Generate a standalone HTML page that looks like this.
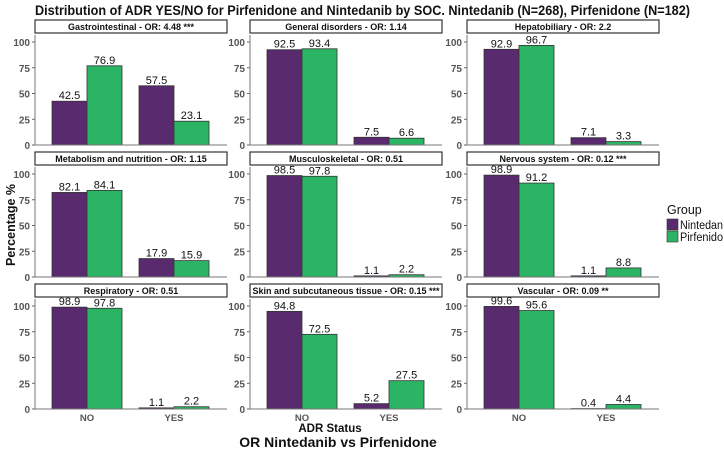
<!DOCTYPE html>
<html><head><meta charset="utf-8"><style>
body{margin:0;background:#fff;}
svg{font-family:"Liberation Sans",Arial,sans-serif;display:block}
</style></head><body>
<svg id="c" width="724" height="450">
<text x="35" y="15" textLength="655" lengthAdjust="spacingAndGlyphs" font-size="13.5" font-weight="bold" fill="#111">Distribution of ADR YES/NO for Pirfenidone and Nintedanib by SOC. Nintedanib (N=268), Pirfenidone (N=182)</text>
<text transform="translate(15,225) rotate(-90)" text-anchor="middle" font-size="12.5" font-weight="bold" fill="#111">Percentage %</text>
<text x="330" y="432" text-anchor="middle" font-size="11.5" font-weight="bold" fill="#111">ADR Status</text>
<text x="338" y="447" text-anchor="middle" font-size="14" font-weight="bold" fill="#111">OR Nintedanib vs Pirfenidone</text>
<g>
<text x="667" y="214" font-size="12.5" fill="#111">Group</text>
<rect x="667" y="219" width="11" height="11" fill="#5a2a6e" stroke="#333" stroke-width="0.6"/>
<text x="680" y="229" font-size="11.5" textLength="43" lengthAdjust="spacingAndGlyphs" fill="#111">Nintedan</text>
<rect x="667" y="231" width="11" height="11" fill="#2bb463" stroke="#333" stroke-width="0.6"/>
<text x="680" y="241" font-size="11.5" textLength="43" lengthAdjust="spacingAndGlyphs" fill="#111">Pirfenido</text>
</g>
<g id="panels"></g>
</svg>
<script>
const panelTitles = ["Gastrointestinal - OR: 4.48 ***","General disorders - OR: 1.14","Hepatobiliary - OR: 2.2","Metabolism and nutrition - OR: 1.15","Musculoskeletal - OR: 0.51","Nervous system - OR: 0.12 ***","Respiratory - OR: 0.51","Skin and subcutaneous tissue - OR: 0.15 ***","Vascular - OR: 0.09 **"];
const categories = ["NO","YES"];
const nintedanib = [[42.5,57.5],[92.5,7.5],[92.9,7.1],[82.1,17.9],[98.5,1.1],[98.9,1.1],[98.9,1.1],[94.8,5.2],[99.6,0.4]];
const pirfenidone = [[76.9,23.1],[93.4,6.6],[96.7,3.3],[84.1,15.9],[97.8,2.2],[91.2,8.8],[97.8,2.2],[72.5,27.5],[95.6,4.4]];
const yTicks = [0,25,50,75,100];
const colors = ["#5a2a6e","#2bb463"];
const NS="http://www.w3.org/2000/svg";
const root=document.getElementById('panels');
function mk(t,a,p){const e=document.createElementNS(NS,t);for(const k in a)e.setAttribute(k,a[k]);(p||root).appendChild(e);return e;}
const colX=[35,250,467], rowZero=[145,277,409], pw=192, scale=1.03;
panelTitles.forEach((title,i)=>{
  const c=i%3,r=Math.floor(i/3), x0=colX[c], y0=rowZero[r];
  const g=mk('g',{});
  
  
  const yS=v=>y0-v*scale;
  const st=mk('rect',{x:x0,y:y0-125,width:pw,height:13,fill:'#fff',stroke:'#333','stroke-width':1.2},g);
  
  
  const tt=mk('text',{x:x0+pw/2,y:y0-115,'text-anchor':'middle','font-size':'9','font-weight':'bold',fill:'#111'},g);
  tt.textContent=title;
  
  
  yTicks.forEach(t=>{
    mk('line',{x1:x0-3,x2:x0,y1:yS(t),y2:yS(t),stroke:'#666'},g);
    const l=mk('text',{x:x0-5,y:yS(t)+4,'text-anchor':'end','font-size':'10','font-weight':'bold',fill:'#555'},g);
    l.textContent=t;
    
    
  });
  categories.forEach((cat,j)=>{
    const gx=x0+17+j*87;
    [nintedanib[i][j],pirfenidone[i][j]].forEach((v,k)=>{
      const b=mk('rect',{x:gx+k*35,y:yS(v),width:35,height:v*scale,fill:colors[k],stroke:'#333','stroke-width':0.8},g);
      
      
      const vl=mk('text',{x:gx+k*35+17.5,y:yS(v)-2,'text-anchor':'middle','font-size':'11',fill:'#111'},g);
      vl.textContent=v.toFixed(1);
      
      
    });
    if(r===2){
      const xl=mk('text',{x:gx+35,y:y0+12,'text-anchor':'middle','font-size':'9.5','font-weight':'bold',fill:'#555'},g);
      xl.textContent=cat;
      
      
    }
  });
  mk('line',{x1:x0,x2:x0,y1:y0-110,y2:y0,stroke:'#777','stroke-width':1},g);
  mk('line',{x1:x0,x2:x0+pw,y1:y0,y2:y0,stroke:'#777','stroke-width':1},g);
});
</script>
</body></html>
